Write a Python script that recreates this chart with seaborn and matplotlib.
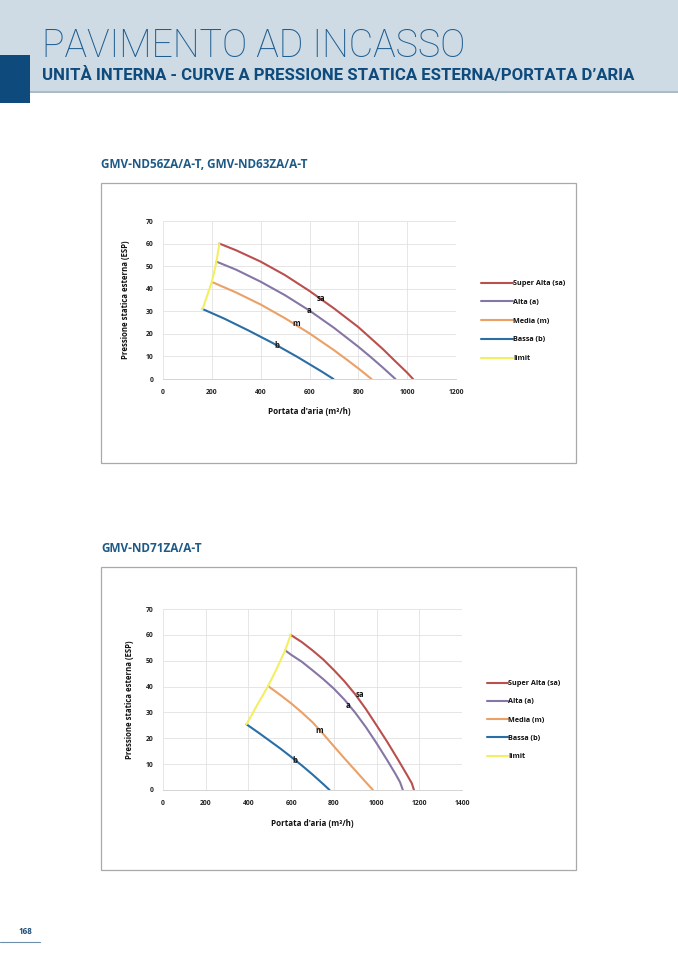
import numpy as np
import pandas as pd
import seaborn as sns
import matplotlib.pyplot as plt
from matplotlib.patches import Rectangle
from matplotlib.lines import Line2D

# ---- data (portata m3/h, pressione Pa) ----
SERIES = ["Super Alta (sa)", "Alta (a)", "Media (m)", "Bassa (b)", "limit"]
SHORT = ["sa", "a", "m", "b"]

# GMV-ND56ZA/A-T, GMV-ND63ZA/A-T
c1_sa_x = [231, 300, 400, 500, 600, 700, 800, 900, 950, 1000, 1024]
c1_sa_y = [60, 57, 52, 46, 39, 31.3, 23, 13.3, 8, 2.8, 0]
c1_a_x = [219, 300, 400, 500, 600, 700, 800, 850, 900, 952]
c1_a_y = [52, 48.4, 43.1, 37.1, 30.3, 22.7, 14.3, 9.8, 5.1, 0]
c1_m_x = [200, 300, 400, 500, 600, 700, 750, 800, 854]
c1_m_y = [43, 38.3, 33, 26.9, 20.2, 12.8, 8.8, 4.7, 0]
c1_b_x = [162, 250, 350, 450, 550, 650, 698]
c1_b_y = [31, 26.8, 21.5, 15.9, 9.8, 3.3, 0]
c1_lim_x = [162, 200, 219, 231]
c1_lim_y = [31, 43, 52, 60]
c1_lab_x = [646, 597, 546, 468]
c1_lab_y = [35.5, 30.5, 24.5, 15]

# GMV-ND71ZA/A-T
c2_sa_x = [598, 650, 700, 750, 800, 850, 900, 950, 1000, 1050, 1100, 1140, 1165, 1175]
c2_sa_y = [60, 57.2, 54, 50.5, 46.4, 42, 37, 31.3, 25, 18.6, 11.8, 6.2, 2.6, 0]
c2_a_x = [572, 600, 650, 700, 750, 800, 850, 900, 950, 1000, 1050, 1090, 1110, 1123]
c2_a_y = [54, 52.3, 49.6, 46.3, 42.9, 39.2, 34.9, 29.9, 24.3, 18.1, 11.5, 6, 3, 0]
c2_m_x = [492, 550, 600, 650, 700, 750, 800, 850, 900, 950, 983]
c2_m_y = [40.2, 36.7, 33.5, 30, 26.2, 21.7, 16.9, 12.2, 7.6, 3, 0]
c2_b_x = [391, 450, 500, 550, 600, 650, 700, 750, 780]
c2_b_y = [25.4, 22, 19, 16, 12.8, 9.5, 6, 2.3, 0]
c2_lim_x = [391, 442, 492, 533, 572, 598]
c2_lim_y = [25.4, 33, 40.2, 47, 54, 60]
c2_lab_x = [920, 866, 733, 617]
c2_lab_y = [37, 32.5, 23, 11.5]

PALETTE = {
    "Super Alta (sa)": "#b9504e",
    "Alta (a)": "#8676a6",
    "Media (m)": "#eba066",
    "Bassa (b)": "#2a6ea6",
    "limit": "#f2ef62",
}

W, H = 678, 959
NAVY = "#0e4b7c"


def make_frame(xs, ys):
    parts = []
    for name, x, y in zip(SERIES, xs, ys):
        parts.append(pd.DataFrame({"portata": x, "pressione": y, "serie": name}))
    return pd.concat(parts, ignore_index=True)


def px_axes(fig, left, top, right, bottom):
    return fig.add_axes([left / W, 1 - bottom / H, (right - left) / W, (bottom - top) / H])


def draw_chart(fig, df, plot_box, frame_box, xmax, title, title_y,
               lab_x, lab_y, leg_xy, leg_handle, leg_spacing, ylab_x, xlab_y):
    # grey frame round the chart
    l, t, r, b = frame_box
    fig.add_artist(Rectangle((l / W, 1 - b / H), (r - l) / W, (b - t) / H,
                             transform=fig.transFigure, fill=False,
                             edgecolor="#a9a9a9", linewidth=0.9))
    fig.text(l / W, 1 - title_y / H, title, fontsize=8.5, fontweight="bold",
             color="#1d5a86", va="center", ha="left")

    ax = px_axes(fig, *plot_box)
    sns.lineplot(data=df, x="portata", y="pressione", hue="serie",
                 hue_order=SERIES, palette=PALETTE, sort=False,
                 estimator=None, linewidth=1.5, ax=ax)
    ax.set_xlim(0, xmax)
    ax.set_ylim(0, 70)
    ax.set_xticks(np.arange(0, xmax + 1, 200))
    ax.set_yticks(np.arange(0, 71, 10))
    ax.grid(True, color="#e2e2e2", linewidth=0.6)
    for s in ["top", "right", "left"]:
        ax.spines[s].set_visible(False)
    ax.spines["bottom"].set_color("#d4d4d4")
    ax.spines["bottom"].set_linewidth(0.7)
    ax.tick_params(length=0, labelsize=4.9, colors="#222222", pad=7)
    for tl in ax.get_xticklabels() + ax.get_yticklabels():
        tl.set_fontweight("bold")
    ax.set_xlabel("")
    ax.set_ylabel("")

    pl, pt, pr, pb = plot_box
    fig.text(ylab_x / W, 1 - (pt + pb) / 2 / H, "Pressione statica esterna (ESP)",
             rotation=90, fontsize=5.6, fontweight="bold", color="#111111",
             ha="center", va="center")
    fig.text((pl + pr) / 2 / W, 1 - xlab_y / H, "Portata d'aria (m³/h)",
             fontsize=5.8, fontweight="bold", color="#111111",
             ha="center", va="center")

    for s, x, y in zip(SHORT, lab_x, lab_y):
        ax.text(x, y, s, fontsize=5.6, fontweight="bold", color="#111111",
                ha="center", va="center")

    handles, labels = ax.get_legend_handles_labels()
    ax.get_legend().remove()
    leg = fig.legend(handles, labels, loc="upper left",
                     bbox_to_anchor=(leg_xy[0] / W, 1 - leg_xy[1] / H),
                     frameon=False, fontsize=5.2, handlelength=leg_handle,
                     handletextpad=0.05, labelspacing=leg_spacing,
                     borderaxespad=0, borderpad=0)
    for txt in leg.get_texts():
        txt.set_fontweight("bold")
        txt.set_color("#111111")
    return ax


sns.set_theme(style="white")
plt.rcParams["font.family"] = ["Open Sans", "DejaVu Sans"]

fig = plt.figure(figsize=(W / 100, H / 100), dpi=100)

# header band
fig.add_artist(Rectangle((0, 1 - 91 / H), 1, 91 / H, transform=fig.transFigure,
                         facecolor="#cedbe5", edgecolor="none", zorder=0))
fig.add_artist(Line2D([0, 1], [1 - 91.5 / H] * 2, transform=fig.transFigure,
                      color="#9aaebe", linewidth=1.2, zorder=1))
fig.add_artist(Rectangle((0, 1 - 103 / H), 30 / W, 48 / H, transform=fig.transFigure,
                         facecolor=NAVY, edgecolor="none", zorder=3))
fig.text(42 / W, 1 - 57 / H, "PAVIMENTO AD INCASSO", fontsize=27.2,
         family=["Roboto", "DejaVu Sans"], fontweight="light", color="#1e5d90",
         ha="left", va="baseline")
fig.text(42 / W, 1 - 80 / H,
         "UNITÀ INTERNA - CURVE A PRESSIONE STATICA ESTERNA/PORTATA D’ARIA",
         fontsize=12.1, family=["Roboto", "DejaVu Sans"], fontweight="bold",
         color=NAVY, ha="left", va="baseline")

df1 = make_frame([c1_sa_x, c1_a_x, c1_m_x, c1_b_x, c1_lim_x],
                 [c1_sa_y, c1_a_y, c1_m_y, c1_b_y, c1_lim_y])
df2 = make_frame([c2_sa_x, c2_a_x, c2_m_x, c2_b_x, c2_lim_x],
                 [c2_sa_y, c2_a_y, c2_m_y, c2_b_y, c2_lim_y])

draw_chart(fig, df1, (163, 221, 456, 379), (101, 183, 576, 463), 1200,
           "GMV-ND56ZA/A-T, GMV-ND63ZA/A-T", 165, c1_lab_x, c1_lab_y,
           (481, 280), 4.4, 1.62, 126, 411)
draw_chart(fig, df2, (163, 609, 462, 790), (101, 567, 576, 870), 1400,
           "GMV-ND71ZA/A-T", 548, c2_lab_x, c2_lab_y,
           (487, 680), 2.9, 1.55, 130, 823)

# page number
fig.text(25 / W, 1 - 931 / H, "168", fontsize=5.8, fontweight="bold",
         color="#1f4e79", ha="center", va="center")
fig.add_artist(Line2D([0, 40 / W], [1 - 942 / H] * 2, transform=fig.transFigure,
                      color="#6d8eaa", linewidth=0.8))

fig.savefig("out.png", dpi=100)
plt.close("all")
